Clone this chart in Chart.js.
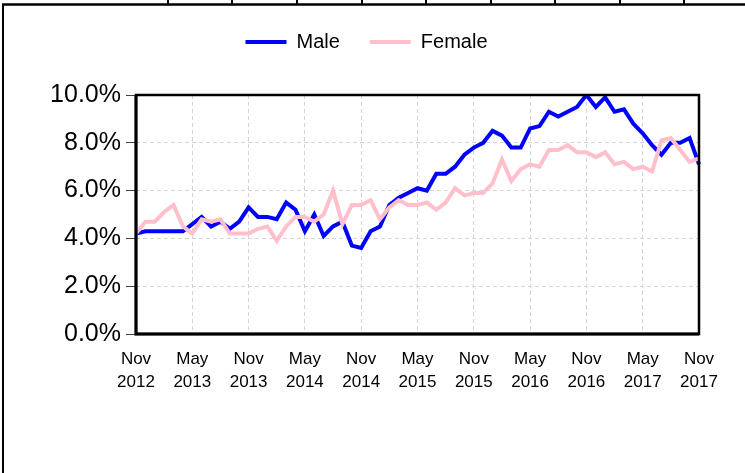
<!DOCTYPE html>
<html>
<head>
<meta charset="utf-8">
<script src="https://cdn.jsdelivr.net/npm/chart.js@4.4.0/dist/chart.umd.min.js"></script>
<style>
  html, body { margin: 0; padding: 0; background: #fff; }
  #wrap { width: 745px; height: 473px; }
</style>
</head>
<body>
<div id="wrap"><canvas id="rateChart" width="745" height="473"></canvas></div>
<script>
// months, Nov 2012 - Nov 2017
const months = [
  "Nov 2012", "Dec 2012",
  "Jan 2013", "Feb 2013", "Mar 2013", "Apr 2013", "May 2013", "Jun 2013",
  "Jul 2013", "Aug 2013", "Sep 2013", "Oct 2013", "Nov 2013", "Dec 2013",
  "Jan 2014", "Feb 2014", "Mar 2014", "Apr 2014", "May 2014", "Jun 2014",
  "Jul 2014", "Aug 2014", "Sep 2014", "Oct 2014", "Nov 2014", "Dec 2014",
  "Jan 2015", "Feb 2015", "Mar 2015", "Apr 2015", "May 2015", "Jun 2015",
  "Jul 2015", "Aug 2015", "Sep 2015", "Oct 2015", "Nov 2015", "Dec 2015",
  "Jan 2016", "Feb 2016", "Mar 2016", "Apr 2016", "May 2016", "Jun 2016",
  "Jul 2016", "Aug 2016", "Sep 2016", "Oct 2016", "Nov 2016", "Dec 2016",
  "Jan 2017", "Feb 2017", "Mar 2017", "Apr 2017", "May 2017", "Jun 2017",
  "Jul 2017", "Aug 2017", "Sep 2017", "Oct 2017", "Nov 2017"
];

const male = [
  4.2, 4.3, 4.3, 4.3, 4.3, 4.3, 4.6, 4.9, 4.5, 4.7, 4.4, 4.7,
  5.3, 4.9, 4.9, 4.8, 5.5, 5.2, 4.3, 5.0, 4.1, 4.5, 4.7, 3.7,
  3.6, 4.3, 4.5, 5.4, 5.7, 5.9, 6.1, 6.0, 6.7, 6.7, 7.0, 7.5,
  7.8, 8.0, 8.5, 8.3, 7.8, 7.8, 8.6, 8.7, 9.3, 9.1, 9.3, 9.5,
  10.0, 9.5, 9.9, 9.3, 9.4, 8.8, 8.4, 7.9, 7.5, 8.0, 8.0, 8.2,
  7.1
];

const female = [
  4.2, 4.7, 4.7, 5.1, 5.4, 4.5, 4.2, 4.8, 4.7, 4.8, 4.2, 4.2,
  4.2, 4.4, 4.5, 3.9, 4.5, 4.9, 4.9, 4.7, 5.0, 6.0, 4.6, 5.4,
  5.4, 5.6, 4.8, 5.3, 5.6, 5.4, 5.4, 5.5, 5.2, 5.5, 6.1, 5.8,
  5.9, 5.9, 6.3, 7.3, 6.4, 6.9, 7.1, 7.0, 7.7, 7.7, 7.9, 7.6,
  7.6, 7.4, 7.6, 7.1, 7.2, 6.9, 7.0, 6.8, 8.1, 8.2, 7.7, 7.2,
  7.35
];

// every 6th month gets a label
const xTickLabels = [
  ["Nov", "2012"], ["May", "2013"], ["Nov", "2013"], ["May", "2014"],
  ["Nov", "2014"], ["May", "2015"], ["Nov", "2015"], ["May", "2016"],
  ["Nov", "2016"], ["May", "2017"], ["Nov", "2017"]
];

const fontFamily = "'Liberation Sans', Arial, sans-serif";

// outer frame lines + black box round the plot
const framePlugin = {
  id: "frame",
  beforeDraw(chart) {
    const c = chart.ctx;
    c.save();
    c.strokeStyle = "#000";
    c.lineWidth = 2.5;
    c.beginPath();
    c.moveTo(2, 4.5);
    c.lineTo(chart.width, 4.5);
    c.stroke();
    c.lineWidth = 2;
    c.beginPath();
    c.moveTo(3, 4);
    c.lineTo(3, chart.height);
    c.stroke();
    [168, 232, 297, 362, 426, 491, 555, 620, 684].forEach(function (x) {
      c.beginPath();
      c.moveTo(x, 0);
      c.lineTo(x, 4);
      c.stroke();
    });
    c.restore();
  },
  afterDatasetsDraw(chart) {
    const a = chart.chartArea;
    const c = chart.ctx;
    c.save();
    c.strokeStyle = "#000";
    c.lineWidth = 2.5;
    c.strokeRect(a.left, a.top, a.right - a.left, a.bottom - a.top);
    c.lineWidth = 3;
    c.beginPath();
    c.moveTo(a.left, a.top);
    c.lineTo(a.left, a.bottom);
    c.lineTo(a.right, a.bottom);
    c.stroke();
    c.restore();
  }
};

var ctx = document.getElementById("rateChart").getContext("2d");
var myChart = new Chart(ctx, {
  type: "line",
  plugins: [framePlugin],
  data: {
    labels: months,
    datasets: [
      {
        label: "Male",
        data: male,
        borderColor: "#0000ff",
        backgroundColor: "#0000ff",
        borderWidth: 4,
        pointRadius: 0,
        tension: 0,
        order: 1
      },
      {
        label: "Female",
        data: female,
        borderColor: "#ffc0cb",
        backgroundColor: "#ffc0cb",
        borderWidth: 4,
        pointRadius: 0,
        tension: 0,
        order: 0
      }
    ]
  },
  options: {
    responsive: false,
    animation: false,
    layout: {
      padding: { left: 34, right: 46, top: 2, bottom: 0 }
    },
    plugins: {
      legend: {
        position: "top",
        labels: {
          usePointStyle: true,
          pointStyle: "line",
          pointStyleWidth: 41,
          padding: 30,
          color: "#000",
          font: { family: fontFamily, size: 20 },
          sort: function (a, b) {
            return a.datasetIndex - b.datasetIndex;
          }
        }
      },
      // empty title used as a spacer under the legend
      title: {
        display: true,
        text: "",
        weight: 500,
        font: { size: 10, lineHeight: 1 },
        padding: { top: 23, bottom: 0 }
      },
      tooltip: { enabled: false }
    },
    scales: {
      x: {
        afterFit: function (scale) {
          scale.height = 139;
        },
        border: { display: false, dash: [4, 3] },
        grid: {
          drawTicks: false,
          color: function (c) {
            return c.index % 6 === 0 ? "#d4d4d4" : "rgba(0,0,0,0)";
          }
        },
        ticks: {
          autoSkip: false,
          maxRotation: 0,
          padding: 14,
          color: "#000",
          font: { family: fontFamily, size: 17, lineHeight: 1.35 },
          callback: function (value, index) {
            return index % 6 === 0 ? xTickLabels[index / 6] : "";
          }
        }
      },
      y: {
        min: 0,
        max: 10,
        afterFit: function (scale) {
          scale.width = 102;
        },
        border: { display: false, dash: [4, 3] },
        grid: {
          color: "#d4d4d4",
          tickColor: "#444",
          tickLength: 10
        },
        ticks: {
          stepSize: 2,
          padding: 5,
          color: "#000",
          font: { family: fontFamily, size: 25 },
          callback: function (value) {
            return value.toFixed(1) + "%";
          }
        }
      }
    }
  }
});
</script>
</body>
</html>
